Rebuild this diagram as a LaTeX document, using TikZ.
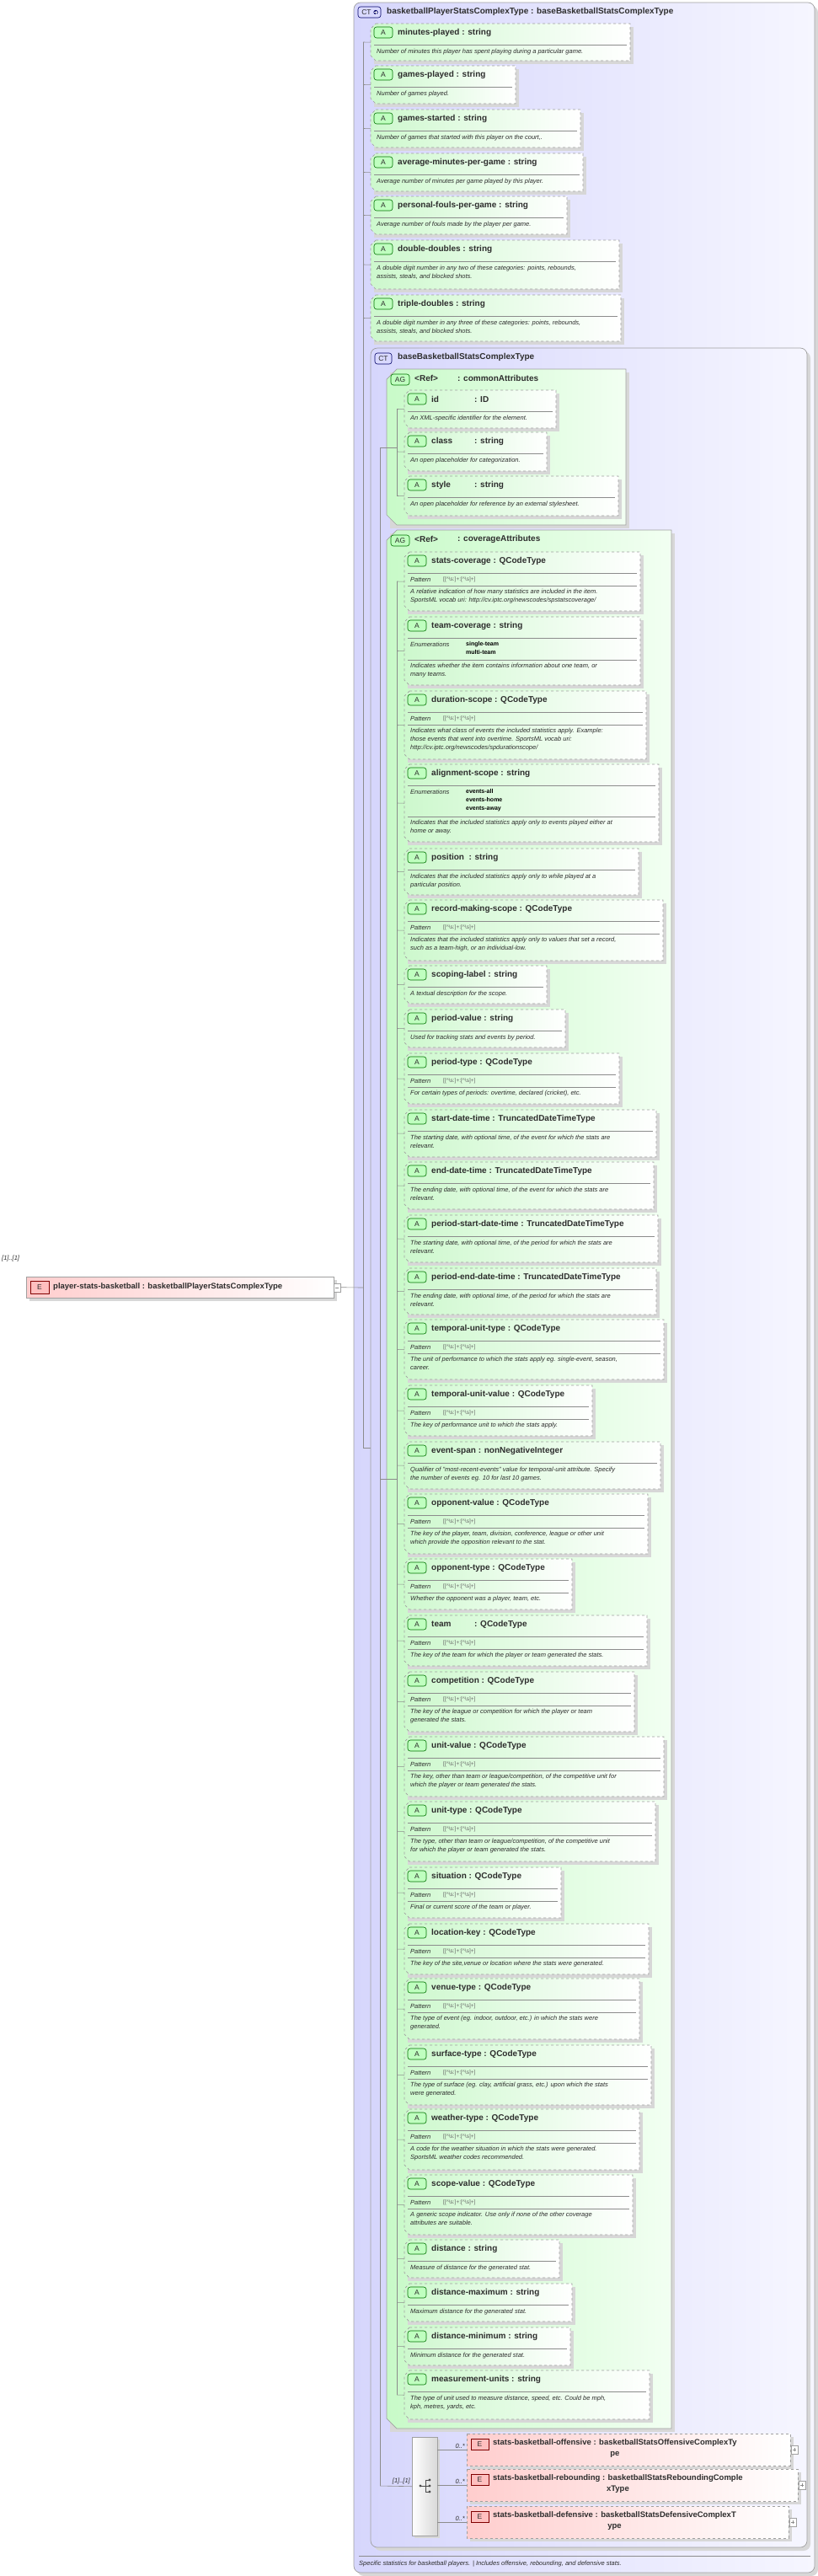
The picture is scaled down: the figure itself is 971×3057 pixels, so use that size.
\documentclass[tikz,border=0pt]{standalone}
\usepackage{fontspec}
\setmainfont{Liberation Sans}
\usetikzlibrary{calc}
\definecolor{ctL}{RGB}{214,214,252}
\definecolor{ctR}{RGB}{246,246,255}
\definecolor{agL}{RGB}{200,250,200}
\definecolor{agR}{RGB}{242,255,242}
\definecolor{atL}{RGB}{205,248,205}
\definecolor{elL}{RGB}{255,205,205}
\definecolor{bordc}{RGB}{160,160,160}
\definecolor{shadowc}{RGB}{215,215,215}
\definecolor{txt}{RGB}{45,45,45}
\definecolor{linec}{RGB}{140,140,140}
\tikzset{
  hdr/.style={anchor=west,inner sep=0,font=\fontsize{10}{12}\selectfont\bfseries,text=txt},
  dsc/.style={anchor=north west,inner sep=0,align=left,font=\fontsize{7.5}{10}\selectfont\itshape,text=txt},
  small/.style={inner sep=0,font=\fontsize{7.5}{10}\selectfont\itshape,text=txt},
  sepl/.style={draw=linec,line width=0.6pt},
  tree/.style={draw=linec,line width=0.6pt},
  badgeA/.style={draw=black!55!green,fill=green!25,rounded corners=3pt,line width=0.6pt},
  badgeC/.style={draw=blue!40!black,fill=blue!15,rounded corners=3pt,line width=0.6pt},
  badgeE/.style={draw=red!50!black,fill=red!25,line width=0.6pt},
}
\newcommand\patt{[[\textasciicircum\textbackslash s:]+:[\textasciicircum\textbackslash s]+]}
\def\TX{471}
% id, left, top, bottom, right, header, body
\newcommand\attr[7]{%
  \def\L{#2}\def\T{#3}\def\R{#5}%
  \fill[shadowc] (#2+4,#3+4) rectangle (#5+4,#4+4);
  \path[draw=bordc,dashed,line width=0.7pt,left color=atL,right color=white]
    (#2+6,#3)--(#5,#3)--(#5,#4)--(#2+6,#4)--(#2,#4-6)--(#2,#3+6)--cycle;
  \node[inner sep=0,minimum width=#5-#2,minimum height=#4-#3,anchor=north west] (#1) at (#2,#3) {};
  \draw[badgeA] (#2+4,#3+4) rectangle (#2+26,#3+17);
  \node[inner sep=0,font=\fontsize{8.5}{10}\selectfont,text=txt] at (#2+15,#3+11) {A};
  \node[hdr] at (#2+32,#3+11) {#6};
  \draw[sepl] (#2+4,#3+25) -- (#5-4,#3+25);
  \draw[tree] (\TX,#3/2+#4/2) -- (#1.west);
  #7}
\newcommand\dsc[2]{\node[dsc] at (\L+7,\T+#1) {#2};}
\newcommand\pat{\node[small,anchor=west] at (\L+7,\T+33) {Pattern};
  \node[inner sep=0,anchor=west,font=\fontsize{6.5}{8}\selectfont,text=black!60] at (\L+46,\T+33) {\patt};
  \draw[sepl] (\L+4,\T+40) -- (\R-4,\T+40);}
\newcommand\enum[2]{\node[small,anchor=west] at (\L+7,\T+33) {Enumerations};
  \node[anchor=north west,inner sep=0,align=left,font=\fontsize{7}{10}\selectfont\bfseries,text=black] at (\L+73,\T+29) {#1};
  \draw[sepl] (\L+4,\T+#2) -- (\R-4,\T+#2);}
\begin{document}
\begin{tikzpicture}[x=1pt,y=-1pt]
\useasboundingbox (0,0) rectangle (971,3057);
\fill[white] (0,0) rectangle (971,3057);
% outer CT
\fill[shadowc,rounded corners=8pt] (424,7) rectangle (971,3057);
\path[draw=bordc,line width=0.7pt,rounded corners=8pt,left color=ctL,right color=ctR] (420,3) rectangle (967,3053);
\node[inner sep=0,minimum width=547,minimum height=3050,anchor=north west] (outer) at (420,3) {};
\draw[badgeC] (425,8) rectangle (452,21);
\node[inner sep=0,font=\fontsize{8.5}{10}\selectfont,text=txt] at (435,14.5) {CT};
\fill[blue!40!black] (446,14.5) circle (2.6pt);
\draw[white,line width=0.8pt] (446,12.5)--(446,16.5) (444,14.5)--(448,14.5);
\node[hdr] at (459,14) {basketballPlayerStatsComplexType : baseBasketballStatsComplexType};
\draw[sepl] (426,3033) -- (962,3033);
\node[small,anchor=west] at (426,3043) {Specific statistics for basketball players. | Includes offensive, rebounding, and defensive stats.};
% outer tree
\draw[tree] (431,50) -- (431,1718) -- (451,1718);
% left element
\node[small,anchor=west] at (2,1494) {[1]..[1]};
\fill[shadowc] (35,1519) rectangle (400,1544);
\path[draw=bordc,line width=0.7pt,left color=elL,right color=white] (31,1515) rectangle (396,1540);
\node[inner sep=0,minimum width=365,minimum height=25,anchor=north west] (main) at (31,1515) {};
\draw[badgeE] (36,1520) rectangle (58,1535);
\node[inner sep=0,font=\fontsize{8.5}{10}\selectfont,text=txt] at (47,1527.5) {E};
\node[hdr,font=\fontsize{9.5}{11}\selectfont\bfseries] at (63,1527) {player-stats-basketball : basketballPlayerStatsComplexType};
\draw[bordc,fill=white] (396,1523) rectangle (404,1533);
\draw[linec] (398,1528)--(402,1528);
\coordinate (oj) at (431,1528);
\draw[tree] (main.east) ++(8,0) -- (oj);
% outer attributes
\def\TX{431}
\attr{mp}{440}{28}{72}{748}{minutes-played : string}{\dsc{30}{Number of minutes this player has spent playing during a particular game.}}
\attr{gp}{440}{78}{123}{612}{games-played : string}{\dsc{30}{Number of games played.}}
\attr{gs}{440}{130}{175}{689}{games-started : string}{\dsc{30}{Number of games that started with this player on the court,.}}
\attr{am}{440}{182}{227}{692}{average-minutes-per-game : string}{\dsc{30}{Average number of minutes per game played by this player.}}
\attr{pf}{440}{233}{278}{673}{personal-fouls-per-game : string}{\dsc{30}{Average number of fouls made by the player per game.}}
\attr{dd}{440}{285}{343}{735}{double-doubles : string}{\dsc{30}{A double digit number in any two of these categories: points, rebounds,\\assists, steals, and blocked shots.}}
\attr{td}{440}{350}{405}{737}{triple-doubles : string}{\dsc{30}{A double digit number in any three of these categories: points, rebounds,\\assists, steals, and blocked shots.}}
\def\TX{471}
% inner CT
\fill[shadowc,rounded corners=8pt] (444,417) rectangle (962,3027);
\path[draw=bordc,line width=0.7pt,rounded corners=8pt,left color=ctL,right color=ctR] (440,413) rectangle (958,3023);
\node[inner sep=0,minimum width=518,minimum height=2610,anchor=north west] (inner) at (440,413) {};
\draw[badgeC] (445,419) rectangle (465,432);
\node[inner sep=0,font=\fontsize{8.5}{10}\selectfont,text=txt] at (455,425.5) {CT};
\node[hdr] at (472,424) {baseBasketballStatsComplexType};
\draw[tree] (451,531) -- (451,2950);
% AG common
\fill[shadowc] (463,442) rectangle (747,627);
\path[draw=bordc,line width=0.7pt,left color=agL,right color=agR] (471,438)--(743,438)--(743,623)--(471,623)--(459,611)--(459,450)--cycle;
\node[inner sep=0,minimum width=284,minimum height=185,anchor=north west] (agc) at (459,438) {};
\draw[badgeA] (464,444) rectangle (486,457);
\node[inner sep=0,font=\fontsize{8.5}{10}\selectfont,text=txt] at (475,450.5) {AG};
\node[hdr] at (492,449) {<Ref>};
\node[hdr] at (543,449) {: commonAttributes};
\draw[tree] (451,531) -- (471,531);
\draw[tree] (471,486) -- (471,588);
\attr{id}{480}{463}{508}{660}{\makebox[51pt][l]{id}: ID}{\dsc{30}{An XML-specific identifier for the element.}}
\attr{cl}{480}{513}{559}{649}{\makebox[51pt][l]{class}: string}{\dsc{30}{An open placeholder for categorization.}}
\attr{st}{480}{565}{612}{734}{\makebox[51pt][l]{style}: string}{\dsc{30}{An open placeholder for reference by an external stylesheet.}}
% AG coverage
\fill[shadowc] (463,633) rectangle (801,2886);
\path[draw=bordc,line width=0.7pt,left color=agL,right color=agR] (471,629)--(797,629)--(797,2882)--(471,2882)--(459,2870)--(459,641)--cycle;
\node[inner sep=0,minimum width=338,minimum height=2253,anchor=north west] (agv) at (459,629) {};
\draw[badgeA] (464,635) rectangle (486,648);
\node[inner sep=0,font=\fontsize{8.5}{10}\selectfont,text=txt] at (475,641.5) {AG};
\node[hdr] at (492,640) {<Ref>};
\node[hdr] at (543,640) {: coverageAttributes};
\draw[tree] (451,1755) -- (471,1755);
\draw[tree] (471,690) -- (471,2842);
\attr{c1}{480}{655}{725}{760}{stats-coverage : QCodeType}{\pat\dsc{44}{A relative indication of how many statistics are included in the item.\\SportsML vocab uri: http://cv.iptc.org/newscodes/spstatscoverage/}}
\attr{c2}{480}{732}{813}{760}{team-coverage : string}{\enum{single-team\\multi-team}{51}\dsc{55}{Indicates whether the item contains information about one team, or\\many teams.}}
\attr{c3}{480}{820}{901}{767}{duration-scope : QCodeType}{\pat\dsc{44}{Indicates what class of events the included statistics apply. Example:\\those events that went into overtime. SportsML vocab uri:\\http://cv.iptc.org/newscodes/spdurationscope/}}
\attr{c4}{480}{907}{999}{782}{alignment-scope : string}{\enum{events-all\\events-home\\events-away}{62}\dsc{66}{Indicates that the included statistics apply only to events played either at\\home or away.}}
\attr{c5}{480}{1007}{1062}{758}{position\ \ : string}{\dsc{30}{Indicates that the included statistics apply only to while played at a\\particular position.}}
\attr{c6}{480}{1068}{1140}{787}{record-making-scope : QCodeType}{\pat\dsc{44}{Indicates that the included statistics apply only to values that set a record,\\such as a team-high, or an individual-low.}}
\attr{c7}{480}{1146}{1191}{649}{scoping-label : string}{\dsc{30}{A textual description for the scope.}}
\attr{c8}{480}{1198}{1243}{671}{period-value : string}{\dsc{30}{Used for tracking stats and events by period.}}
\attr{c9}{480}{1250}{1310}{735}{period-type : QCodeType}{\pat\dsc{44}{For certain types of periods: overtime, declared (cricket), etc.}}
\attr{c10}{480}{1317}{1373}{779}{start-date-time : TruncatedDateTimeType}{\dsc{30}{The starting date, with optional time, of the event for which the stats are\\relevant.}}
\attr{c11}{480}{1379}{1435}{776}{end-date-time : TruncatedDateTimeType}{\dsc{30}{The ending date, with optional time, of the event for which the stats are\\relevant.}}
\attr{c12}{480}{1442}{1498}{781}{period-start-date-time : TruncatedDateTimeType}{\dsc{30}{The starting date, with optional time, of the period for which the stats are\\relevant.}}
\attr{c13}{480}{1505}{1560}{779}{period-end-date-time : TruncatedDateTimeType}{\dsc{30}{The ending date, with optional time, of the period for which the stats are\\relevant.}}
\attr{c14}{480}{1566}{1637}{788}{temporal-unit-type : QCodeType}{\pat\dsc{44}{The unit of performance to which the stats apply eg. single-event, season,\\career.}}
\attr{c15}{480}{1644}{1704}{703}{temporal-unit-value : QCodeType}{\pat\dsc{44}{The key of performance unit to which the stats apply.}}
\attr{c16}{480}{1711}{1767}{784}{event-span : nonNegativeInteger}{\dsc{30}{Qualifier of ''most-recent-events'' value for temporal-unit attribute. Specify\\the number of events eg. 10 for last 10 games.}}
\attr{c17}{480}{1773}{1844}{769}{opponent-value : QCodeType}{\pat\dsc{44}{The key of the player, team, division, conference, league or other unit\\which provide the opposition relevant to the stat.}}
\attr{c18}{480}{1850}{1910}{679}{opponent-type : QCodeType}{\pat\dsc{44}{Whether the opponent was a player, team, etc.}}
\attr{c19}{480}{1917}{1977}{768}{\makebox[51pt][l]{team}: QCodeType}{\pat\dsc{44}{The key of the team for which the player or team generated the stats.}}
\attr{c20}{480}{1984}{2055}{753}{competition : QCodeType}{\pat\dsc{44}{The key of the league or competition for which the player or team\\generated the stats.}}
\attr{c21}{480}{2061}{2132}{788}{unit-value : QCodeType}{\pat\dsc{44}{The key, other than team or league/competition, of the competitive unit for\\which the player or team generated the stats.}}
\attr{c22}{480}{2138}{2209}{778}{unit-type : QCodeType}{\pat\dsc{44}{The type, other than team or league/competition, of the competitive unit\\for which the player or team generated the stats.}}
\attr{c23}{480}{2216}{2276}{666}{situation : QCodeType}{\pat\dsc{44}{Final or current score of the team or player.}}
\attr{c24}{480}{2283}{2343}{770}{location-key : QCodeType}{\pat\dsc{44}{The key of the site,venue or location where the stats were generated.}}
\attr{c25}{480}{2348}{2420}{759}{venue-type : QCodeType}{\pat\dsc{44}{The type of event (eg. indoor, outdoor, etc.) in which the stats were\\generated.}}
\attr{c26}{480}{2427}{2498}{773}{surface-type : QCodeType}{\pat\dsc{44}{The type of surface (eg. clay, artificial grass, etc.) upon which the stats\\were generated.}}
\attr{c27}{480}{2503}{2575}{759}{weather-type : QCodeType}{\pat\dsc{44}{A code for the weather situation in which the stats were generated.\\SportsML weather codes recommended.}}
\attr{c28}{480}{2581}{2652}{751}{scope-value : QCodeType}{\pat\dsc{44}{A generic scope indicator. Use only if none of the other coverage\\attributes are suitable.}}
\attr{c29}{480}{2658}{2703}{664}{distance : string}{\dsc{30}{Measure of distance for the generated stat.}}
\attr{c30}{480}{2710}{2755}{679}{distance-maximum : string}{\dsc{30}{Maximum distance for the generated stat.}}
\attr{c31}{480}{2762}{2807}{677}{distance-minimum : string}{\dsc{30}{Minimum distance for the generated stat.}}
\attr{c32}{480}{2813}{2871}{771}{measurement-units : string}{\dsc{30}{The type of unit used to measure distance, speed, etc. Could be mph,\\kph, metres, yards, etc.}}
% choice
\fill[shadowc] (492,2895) rectangle (522,3012);
\path[draw=bordc,line width=0.7pt,left color=white,right color=black!15] (489,2892) rectangle (519,3009);
\node[inner sep=0,minimum width=30,minimum height=117,anchor=north west] (ch) at (489,2892) {};
\draw[tree] (451,2950) -- (ch.west);
\node[small,anchor=south east] at (487,2948) {[1]..[1]};
\fill[black!70] (499,2950) circle (1.6pt) (510,2943) circle (1.6pt) (510,2950) circle (1.6pt) (510,2957) circle (1.6pt);
\draw[black!70,line width=0.8pt] (499,2950)--(505,2950) (505,2943)--(505,2957) (505,2943)--(510,2943) (505,2950)--(510,2950) (505,2957)--(510,2957);
% elements
\newcommand\elem[5]{% id, top, bottom, right, text
  \fill[shadowc] (558,#2+4) rectangle (#4+4,#3+4);
  \path[draw=bordc,dashed,line width=0.7pt,left color=elL,right color=white] (554,#2) rectangle (#4,#3);
  \node[inner sep=0,minimum width=#4-554,minimum height=#3-#2,anchor=north west] (#1) at (554,#2) {};
  \draw[badgeE] (559,#2+6) rectangle (580,#2+19);
  \node[inner sep=0,font=\fontsize{8.5}{10}\selectfont,text=txt] at (569.5,#2+12.5) {E};
  \node[anchor=north west,inner sep=0,align=center,font=\fontsize{9.5}{13}\selectfont\bfseries,text=txt] at (585,#2+6) {#5};
  \draw[bordc,fill=white] (#4+1,#2/2+#3/2-5) rectangle (#4+9,#2/2+#3/2+5);
  \draw[linec] (#4+3,#2/2+#3/2)--(#4+7,#2/2+#3/2) (#4+5,#2/2+#3/2-2)--(#4+5,#2/2+#3/2+2);
  \draw[tree] (ch.east |- #1.west) -- (#1.west);
  \node[small,anchor=south east] at (552,#2/2+#3/2-1) {0..*};}
\elem{e1}{2888}{2926}{938}{stats-basketball-offensive : basketballStatsOffensiveComplexTy\\pe}
\elem{e2}{2930}{2968}{947}{stats-basketball-rebounding : basketballStatsReboundingComple\\xType}
\elem{e3}{2974}{3012}{936}{stats-basketball-defensive : basketballStatsDefensiveComplexT\\ype}
\end{tikzpicture}
\end{document}
